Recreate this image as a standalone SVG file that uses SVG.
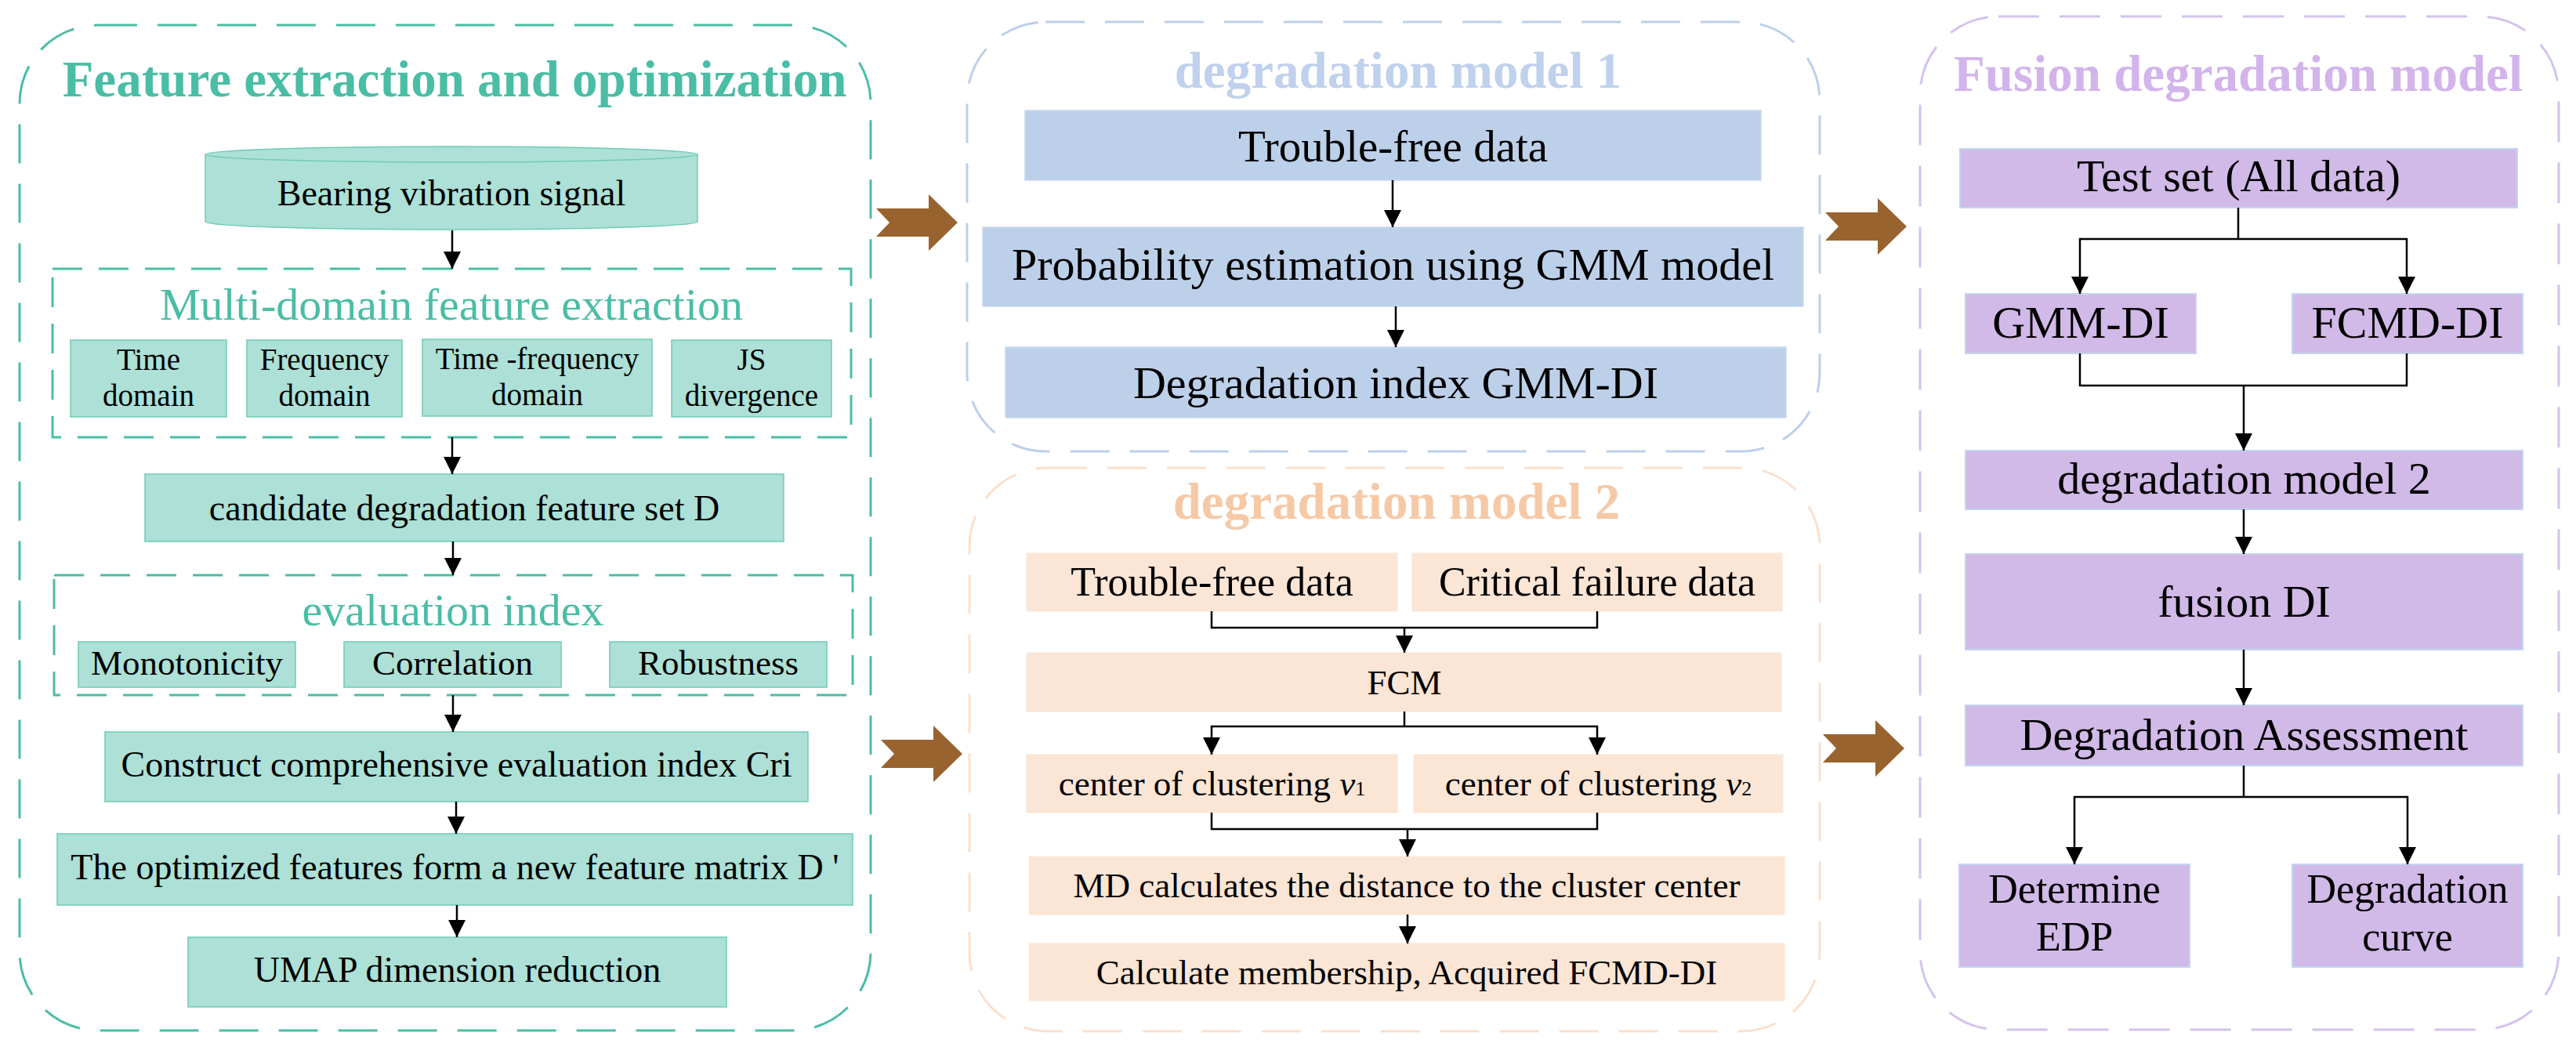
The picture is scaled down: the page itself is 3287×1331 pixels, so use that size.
<svg xmlns="http://www.w3.org/2000/svg" width="3287" height="1331" viewBox="0 0 3287 1331">
<style>
text{font-family:"Liberation Serif","Times New Roman",serif;text-anchor:middle;fill:#000}
.t{font-weight:bold;font-size:65px}
.tl{fill:#4abda5}
.bl{fill:#bfd1ec}
.pc{fill:#f6c9a6}
.pu{fill:#d2b4ea}
.pteal{fill:none;stroke:#4abda5;stroke-width:3;stroke-dasharray:50 26}
.iteal{fill:none;stroke:#4abda5;stroke-width:3;stroke-dasharray:38 21}
.pblue{fill:none;stroke:#bcd0ea;stroke-width:3;stroke-dasharray:50 26}
.ppeach{fill:none;stroke:#fbe0cc;stroke-width:3;stroke-dasharray:50 26}
.ppur{fill:none;stroke:#d4c2ec;stroke-width:3;stroke-dasharray:52 26}
.nt{fill:#ade0d6;stroke:#6fcbb8;stroke-width:1.5}
.nb{fill:#bdd0ea;stroke:#c9d9ef;stroke-width:1.5}
.np{fill:#fbe5d5;stroke:#fbe5d5;stroke-width:1}
.nu{fill:#d1b9e8;stroke:#c2d5ee;stroke-width:2}
.f39{font-size:39px}.f45{font-size:45px}.f46{font-size:46px}.f52{font-size:52px}.f57{font-size:57px}.f58{font-size:58px}
.c{fill:none;stroke:#000;stroke-width:2.5}
.ch{fill:#99632f}
</style>
<defs>
<marker id="ah" markerUnits="userSpaceOnUse" viewBox="0 0 22 22" markerWidth="22" markerHeight="22" refX="22" refY="11" orient="auto">
<path d="M0,0 L22,11 L0,22 z" fill="#000"/>
</marker>
</defs>
<rect width="3287" height="1331" fill="#fff"/>

<g id="panel-feature">
<rect class="pteal" x="25" y="32" width="1086" height="1283" rx="100"/>
<text class="t tl" x="580" y="123">Feature extraction and optimization</text>
</g>
<g id="node-bearing">
<path class="nt" d="M262,197 L262,283 A314,10 0 0 0 890,283 L890,197 A314,10 0 0 0 262,197 Z"/>
<path class="nt" d="M262,197 A314,10 0 0 0 890,197"/>
<text class="f46" x="576" y="262">Bearing vibration signal</text>
</g>
<g id="group-multidomain">
<rect class="iteal" x="67" y="343" width="1019" height="215"/>
<text class="tl f58" x="576" y="408">Multi-domain feature extraction</text>
</g>
<g id="node-time">
<rect class="nt" x="90" y="434" width="199" height="98"/>
<text class="f39" x="189.5" y="472">Time</text><text class="f39" x="189.5" y="518">domain</text>
</g>
<g id="node-frequency">
<rect class="nt" x="315" y="434" width="198" height="98"/>
<text class="f39" x="414" y="472">Frequency</text><text class="f39" x="414" y="518">domain</text>
</g>
<g id="node-timefreq">
<rect class="nt" x="539" y="433" width="293" height="98"/>
<text class="f39" x="685.5" y="471">Time -frequency</text><text class="f39" x="685.5" y="517">domain</text>
</g>
<g id="node-js">
<rect class="nt" x="857" y="434" width="204" height="98"/>
<text class="f39" x="959" y="472">JS</text><text class="f39" x="959" y="518">divergence</text>
</g>
<g id="node-candidate">
<rect class="nt" x="185" y="605" width="815" height="86"/>
<text class="f46" x="592.5" y="664">candidate degradation feature set D</text>
</g>
<g id="group-evaluation">
<rect class="iteal" x="69" y="734" width="1019" height="153"/>
<text class="tl f58" x="578" y="798">evaluation index</text>
</g>
<g id="node-monotonicity">
<rect class="nt" x="100" y="819" width="277" height="58"/>
<text class="f45" x="238.5" y="861">Monotonicity</text>
</g>
<g id="node-correlation">
<rect class="nt" x="439" y="819" width="277" height="58"/>
<text class="f45" x="577.5" y="861">Correlation</text>
</g>
<g id="node-robustness">
<rect class="nt" x="778" y="819" width="277" height="58"/>
<text class="f45" x="916.5" y="861">Robustness</text>
</g>
<g id="node-construct">
<rect class="nt" x="134" y="934" width="897" height="89"/>
<text class="f46" x="582.5" y="991">Construct comprehensive evaluation index Cri</text>
</g>
<g id="node-optimized">
<rect class="nt" x="73" y="1064" width="1015" height="91"/>
<text class="f46" x="580.5" y="1122">The optimized features form a new feature matrix D '</text>
</g>
<g id="node-umap">
<rect class="nt" x="240" y="1196" width="687" height="89"/>
<text class="f46" x="583.5" y="1253">UMAP dimension reduction</text>
</g>

<g id="panel-model1">
<rect class="pblue" x="1234" y="28" width="1088" height="548" rx="100"/>
<text class="t bl" x="1784" y="112">degradation model 1</text>
</g>
<g id="node-m1-troublefree">
<rect class="nb" x="1308" y="141" width="939" height="89"/>
<text class="f57" x="1777.5" y="206">Trouble-free data</text>
</g>
<g id="node-m1-probability">
<rect class="nb" x="1254" y="290" width="1047" height="101"/>
<text class="f58" x="1777.5" y="357">Probability estimation using GMM model</text>
</g>
<g id="node-m1-gmmdi">
<rect class="nb" x="1283" y="443" width="996" height="90"/>
<text class="f58" x="1781" y="508">Degradation index GMM-DI</text>
</g>

<g id="panel-model2">
<rect class="ppeach" x="1237" y="597" width="1085" height="719" rx="100"/>
<text class="t pc" x="1782" y="662">degradation model 2</text>
</g>
<g id="node-m2-troublefree">
<rect class="np" x="1310" y="706" width="473" height="74"/>
<text class="f52" x="1546.5" y="760">Trouble-free data</text>
</g>
<g id="node-m2-critical">
<rect class="np" x="1802" y="706" width="472" height="74"/>
<text class="f52" x="2038" y="760">Critical failure data</text>
</g>
<g id="node-m2-fcm">
<rect class="np" x="1310" y="833" width="963" height="75"/>
<text class="f45" x="1792" y="886">FCM</text>
</g>
<g id="node-m2-v1">
<rect class="np" x="1310" y="963" width="473" height="74"/>
<text class="f45" x="1546.5" y="1015">center of clustering <tspan font-style="italic">v</tspan><tspan font-size="26">1</tspan></text>
</g>
<g id="node-m2-v2">
<rect class="np" x="1804" y="963" width="471" height="74"/>
<text class="f45" x="2039.5" y="1015">center of clustering <tspan font-style="italic">v</tspan><tspan font-size="26">2</tspan></text>
</g>
<g id="node-m2-md">
<rect class="np" x="1313" y="1093" width="964" height="74"/>
<text class="f45" x="1795" y="1145">MD calculates the distance to the cluster center</text>
</g>
<g id="node-m2-membership">
<rect class="np" x="1313" y="1204" width="964" height="73"/>
<text class="f45" x="1795" y="1256">Calculate membership, Acquired FCMD-DI</text>
</g>

<g id="panel-fusion">
<rect class="ppur" x="2450" y="21" width="815" height="1293" rx="100"/>
<text class="t pu" x="2856" y="116">Fusion degradation model</text>
</g>
<g id="node-f-testset">
<rect class="nu" x="2501" y="190" width="711" height="75"/>
<text class="f58" x="2856.5" y="244">Test set (All data)</text>
</g>
<g id="node-f-gmmdi">
<rect class="nu" x="2508" y="375" width="294" height="76"/>
<text class="f58" x="2655" y="431">GMM-DI</text>
</g>
<g id="node-f-fcmddi">
<rect class="nu" x="2925" y="375" width="294" height="76"/>
<text class="f58" x="3072" y="431">FCMD-DI</text>
</g>
<g id="node-f-model2">
<rect class="nu" x="2508" y="575" width="711" height="75"/>
<text class="f58" x="2863.5" y="630">degradation model 2</text>
</g>
<g id="node-f-fusiondi">
<rect class="nu" x="2508" y="707" width="711" height="122"/>
<text class="f58" x="2863.5" y="787">fusion DI</text>
</g>
<g id="node-f-assessment">
<rect class="nu" x="2508" y="900" width="711" height="77"/>
<text class="f58" x="2863.5" y="957">Degradation Assessment</text>
</g>
<g id="node-f-edp">
<rect class="nu" x="2500" y="1103" width="294" height="131"/>
<text class="f52" x="2647" y="1152">Determine</text><text class="f52" x="2647" y="1213">EDP</text>
</g>
<g id="node-f-curve">
<rect class="nu" x="2925" y="1103" width="294" height="131"/>
<text class="f52" x="3072" y="1152">Degradation</text><text class="f52" x="3072" y="1213">curve</text>
</g>

<g id="connectors">
<path class="c" marker-end="url(#ah)" d="M577,294 V343"/>
<path class="c" marker-end="url(#ah)" d="M577,558 V605"/>
<path class="c" marker-end="url(#ah)" d="M578,691 V734"/>
<path class="c" marker-end="url(#ah)" d="M578,887 V934"/>
<path class="c" marker-end="url(#ah)" d="M582,1023 V1064"/>
<path class="c" marker-end="url(#ah)" d="M583,1155 V1196"/>

<path class="c" marker-end="url(#ah)" d="M1777,230 V290"/>
<path class="c" marker-end="url(#ah)" d="M1781,391 V443"/>

<path class="c" d="M1546,780 V801 H2038 V780"/>
<path class="c" marker-end="url(#ah)" d="M1792,801 V833"/>
<path class="c" d="M1792,908 V927"/>
<path class="c" marker-end="url(#ah)" d="M1792,927 H1546 V963"/>
<path class="c" marker-end="url(#ah)" d="M1792,927 H2038 V963"/>
<path class="c" d="M1546,1037 V1058 H2038 V1037"/>
<path class="c" marker-end="url(#ah)" d="M1796,1058 V1093"/>
<path class="c" marker-end="url(#ah)" d="M1796,1167 V1204"/>

<path class="c" d="M2856,265 V305"/>
<path class="c" marker-end="url(#ah)" d="M2856,305 H2654 V375"/>
<path class="c" marker-end="url(#ah)" d="M2856,305 H3071 V375"/>
<path class="c" d="M2654,451 V492 H3071 V451"/>
<path class="c" marker-end="url(#ah)" d="M2863,492 V575"/>
<path class="c" marker-end="url(#ah)" d="M2863,650 V707"/>
<path class="c" marker-end="url(#ah)" d="M2863,829 V900"/>
<path class="c" d="M2863,977 V1017"/>
<path class="c" marker-end="url(#ah)" d="M2863,1017 H2647 V1103"/>
<path class="c" marker-end="url(#ah)" d="M2863,1017 H3072 V1103"/>

<polygon class="ch" points="1118,266 1185,266 1185,248 1222,284 1185,320 1185,302 1118,302 1135,284"/>
<polygon class="ch" points="1124,944 1191,944 1191,926 1228,962 1191,998 1191,980 1124,980 1141,962"/>
<polygon class="ch" points="2329,271 2396,271 2396,253 2433,289 2396,325 2396,307 2329,307 2346,289"/>
<polygon class="ch" points="2326,937 2393,937 2393,919 2430,955 2393,991 2393,973 2326,973 2343,955"/>
</g>
</svg>
